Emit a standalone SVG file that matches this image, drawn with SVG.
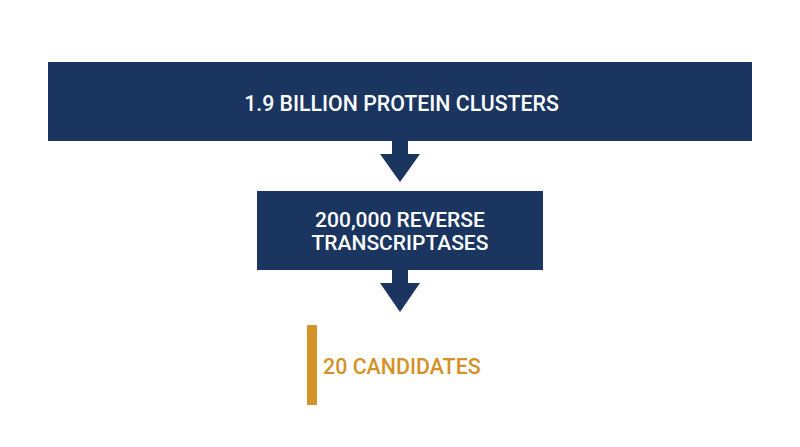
<svg xmlns="http://www.w3.org/2000/svg" width="800" height="447" viewBox="0 0 800 447">
<style>
.box{fill:#1b3561}
.t{font-family:Roboto,"Liberation Sans",sans-serif;font-weight:500;fill:#ffffff;text-anchor:middle}
.arr{fill:#1b3561}
.o{font-family:Roboto,"Liberation Sans",sans-serif;font-weight:500;fill:#d4922a}
</style>
<rect width="800" height="447" fill="#ffffff"/>
<g id="node-clusters">
<rect class="box" x="48" y="62" width="704" height="79"/>
<text class="t" x="401.5" y="111" font-size="21.3">1.9 BILLION PROTEIN CLUSTERS</text>
</g>
<g id="node-rt">
<rect class="box" x="257" y="191" width="286" height="79"/>
<text class="t" x="400" y="226.5" font-size="21">200,000 REVERSE</text>
<text class="t" x="400" y="250" font-size="21">TRANSCRIPTASES</text>
</g>
<g id="node-candidates">
<rect x="307" y="325" width="10" height="80" fill="#d4922a"/>
<text class="o" x="323" y="374" font-size="21.4">20 CANDIDATES</text>
</g>
<g id="connectors">
<path class="arr" d="M392 141 H408 V154 H420 L400 182 L380 154 H392 Z"/>
<path class="arr" d="M392 270 H408 V283 H420 L400 312 L380 283 H392 Z"/>
</g>
</svg>
